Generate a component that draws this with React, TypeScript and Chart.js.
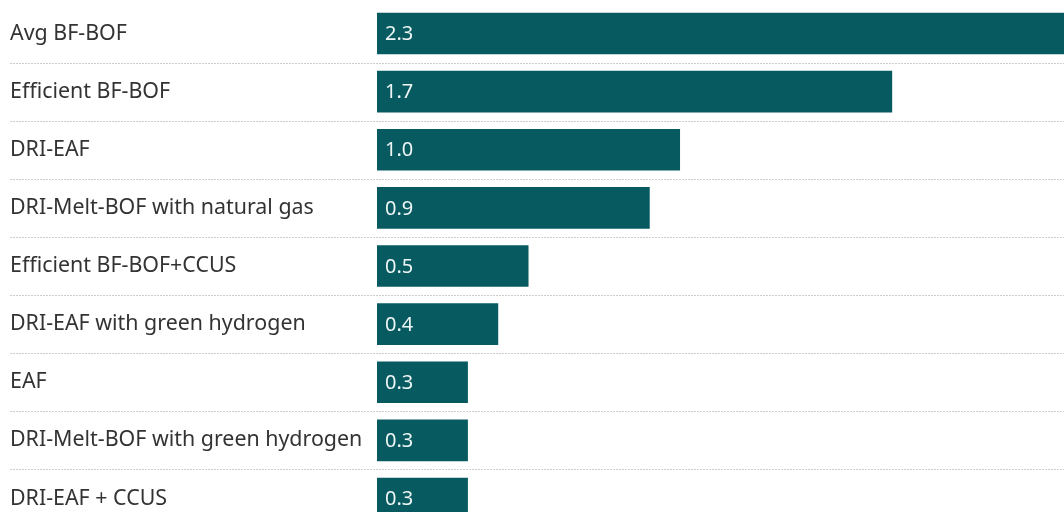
import React, { useEffect, useRef } from "react";
import { Chart, registerables } from "chart.js";

Chart.register(...registerables);

const categories = [
  "Avg BF-BOF",
  "Efficient BF-BOF",
  "DRI-EAF",
  "DRI-Melt-BOF with natural gas",
  "Efficient BF-BOF+CCUS",
  "DRI-EAF with green hydrogen",
  "EAF",
  "DRI-Melt-BOF with green hydrogen",
  "DRI-EAF + CCUS",
];
const values = [2.3, 1.7, 1.0, 0.9, 0.5, 0.4, 0.3, 0.3, 0.3];
const valueLabels = ["2.3", "1.7", "1.0", "0.9", "0.5", "0.4", "0.3", "0.3", "0.3"];

const BAR_COLOR = "#075b60";
const FONT = "'Noto Sans', 'Open Sans', sans-serif";

const separatorPlugin = {
  id: "separators",
  beforeDatasetsDraw(chart: any) {
    const ctx = chart.ctx;
    const y = chart.scales.y;
    const n = categories.length;
    const band = (y.bottom - y.top) / n;
    ctx.save();
    ctx.strokeStyle = "#cccccc";
    ctx.lineWidth = 1;
    ctx.setLineDash([2, 1]);
    for (let k = 1; k <= n; k++) {
      const py = Math.round(y.top + k * band) + 0.5;
      ctx.beginPath();
      ctx.moveTo(10, py);
      ctx.lineTo(chart.width, py);
      ctx.stroke();
    }
    ctx.restore();
  },
};

const valueLabelPlugin = {
  id: "valueLabels",
  afterDatasetsDraw(chart: any) {
    const ctx = chart.ctx;
    const meta = chart.getDatasetMeta(0);
    ctx.save();
    ctx.fillStyle = "#eef5f5";
    ctx.font = `20px ${FONT}`;
    ctx.textAlign = "left";
    ctx.textBaseline = "middle";
    meta.data.forEach((el: any, i: number) => {
      ctx.fillText(valueLabels[i], el.base + 8, el.y + 1);
    });
    ctx.restore();
  },
};

export default function App() {
  const ref = useRef<HTMLCanvasElement>(null);
  useEffect(() => {
    if (!ref.current) return;
    const chart = new Chart(ref.current, {
      type: "bar",
      data: {
        labels: categories,
        datasets: [
          {
            data: values,
            backgroundColor: BAR_COLOR,
            barPercentage: 0.716,
            categoryPercentage: 1,
          },
        ],
      },
      options: {
        indexAxis: "y",
        responsive: false,
        animation: false,
        layout: { padding: { left: 10, top: 4.5, bottom: 12.5, right: 0 } },
        plugins: { legend: { display: false }, tooltip: { enabled: false } },
        scales: {
          x: { display: false, min: 0, max: 2.267 },
          y: {
            grid: { display: false },
            border: { display: false },
            ticks: {
              crossAlign: "far",
              color: "#333333",
              padding: 0,
              font: { family: FONT, size: 21.4 },
            },
            afterFit: (s: any) => {
              s.width = 367;
              s.paddingTop = 0;
              s.paddingBottom = 0;
            },
          },
        },
      },
      plugins: [separatorPlugin, valueLabelPlugin],
    } as any);
    return () => chart.destroy();
  }, []);
  return (
    <div
      style={{
        position: "fixed",
        left: 0,
        top: 0,
        width: 1064,
        height: 512,
        overflow: "hidden",
        background: "#ffffff",
      }}
    >
      <canvas ref={ref} width={1064} height={540} style={{ display: "block" }} />
    </div>
  );
}
